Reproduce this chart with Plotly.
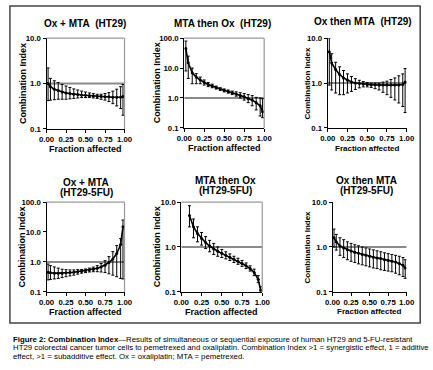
import plotly.graph_objects as go

W, H = 433, 370

# ---------------- data ----------------
fa = [0.02, 0.05, 0.10, 0.15, 0.20, 0.25, 0.30, 0.35, 0.40, 0.45, 0.50,
      0.55, 0.60, 0.65, 0.70, 0.75, 0.80, 0.85, 0.90, 0.95, 0.98]
fa5 = [0.10, 0.15, 0.20, 0.25, 0.30, 0.35, 0.40, 0.45, 0.50,
       0.55, 0.60, 0.65, 0.70, 0.75, 0.80, 0.85, 0.90, 0.95, 0.98]

# Ox + MTA (HT29)
ci1 = [1.00, 0.85, 0.75, 0.70, 0.65, 0.62, 0.60, 0.58, 0.57, 0.56, 0.55,
       0.54, 0.53, 0.52, 0.52, 0.51, 0.51, 0.50, 0.50, 0.50, 0.52]
hi1 = [2.2, 1.3, 1.15, 1.05, 0.95, 0.88, 0.82, 0.76, 0.72, 0.68, 0.65,
       0.62, 0.60, 0.58, 0.58, 0.60, 0.63, 0.68, 0.75, 0.85, 0.95]
lo1 = [0.42, 0.43, 0.44, 0.45, 0.45, 0.45, 0.46, 0.47, 0.48, 0.49, 0.49,
       0.49, 0.48, 0.47, 0.45, 0.43, 0.40, 0.36, 0.32, 0.28, 0.20]

# MTA then Ox (HT29)
ci2 = [45, 15, 7.0, 5.0, 4.0, 3.3, 2.8, 2.5, 2.2, 2.0, 1.8,
       1.65, 1.5, 1.35, 1.2, 1.1, 0.95, 0.85, 0.7, 0.55, 0.35]
hi2 = [80, 25, 10, 6.5, 5.0, 4.0, 3.3, 2.9, 2.5, 2.2, 2.0,
       1.85, 1.7, 1.6, 1.5, 1.4, 1.3, 1.2, 1.05, 1.0, 0.95]
lo2 = [8, 4.5, 3.0, 3.0, 3.0, 2.7, 2.4, 2.2, 2.0, 1.8, 1.6,
       1.45, 1.3, 1.15, 1.0, 0.85, 0.7, 0.55, 0.4, 0.25, 0.22]

# Ox then MTA (HT29)
ci3 = [5.0, 2.8, 2.0, 1.55, 1.3, 1.15, 1.05, 1.0, 0.97, 0.95, 0.93,
       0.92, 0.91, 0.90, 0.90, 0.90, 0.90, 0.90, 0.90, 0.93, 1.05]
hi3 = [10, 4.5, 2.9, 2.3, 1.9, 1.6, 1.4, 1.25, 1.15, 1.08, 1.03,
       1.0, 1.0, 1.0, 1.05, 1.1, 1.2, 1.3, 1.45, 1.6, 2.1]
lo3 = [0.9, 0.7, 0.6, 0.55, 0.55, 0.6, 0.65, 0.72, 0.78, 0.82, 0.82,
       0.8, 0.75, 0.7, 0.62, 0.55, 0.48, 0.42, 0.36, 0.3, 0.22]

# Ox + MTA (HT29-5FU)
ci4 = [0.45, 0.43, 0.42, 0.42, 0.42, 0.43, 0.44, 0.45, 0.47, 0.49, 0.51,
       0.54, 0.57, 0.61, 0.68, 0.78, 0.95, 1.25, 1.9, 3.8, 15]
hi4 = [0.85, 0.75, 0.68, 0.62, 0.57, 0.55, 0.54, 0.54, 0.55, 0.56, 0.58,
       0.62, 0.67, 0.75, 0.88, 1.1, 1.5, 2.2, 3.5, 6.0, 25]
lo4 = [0.25, 0.26, 0.27, 0.28, 0.30, 0.32, 0.34, 0.36, 0.39, 0.42, 0.44,
       0.46, 0.47, 0.47, 0.46, 0.44, 0.40, 0.36, 0.32, 0.28, 0.27]

# MTA then Ox (HT29-5FU)
ci5 = [5.0, 2.8, 2.0, 1.55, 1.25, 1.05, 0.9, 0.8, 0.72, 0.65,
       0.59, 0.53, 0.48, 0.43, 0.38, 0.33, 0.27, 0.19, 0.11]
hi5 = [8.3, 4.2, 2.8, 2.1, 1.7, 1.4, 1.2, 1.0, 0.88, 0.78,
       0.7, 0.62, 0.56, 0.5, 0.44, 0.38, 0.32, 0.23, 0.13]
lo5 = [2.8, 1.6, 1.3, 1.1, 0.92, 0.78, 0.68, 0.62, 0.58, 0.54,
       0.5, 0.45, 0.41, 0.37, 0.33, 0.29, 0.23, 0.16, 0.10]

# Ox then MTA (HT29-5FU)
ci6 = [1.6, 1.3, 1.05, 0.95, 0.87, 0.81, 0.76, 0.72, 0.68, 0.65, 0.62,
       0.59, 0.57, 0.55, 0.52, 0.50, 0.48, 0.46, 0.43, 0.39, 0.34]
hi6 = [2.5, 1.9, 1.6, 1.45, 1.3, 1.2, 1.12, 1.06, 1.0, 0.95, 0.9,
       0.86, 0.82, 0.78, 0.74, 0.71, 0.68, 0.65, 0.62, 0.58, 0.52]
lo6 = [1.0, 0.85, 0.65, 0.58, 0.52, 0.48, 0.45, 0.42, 0.40, 0.38, 0.36,
       0.34, 0.33, 0.31, 0.30, 0.29, 0.28, 0.26, 0.24, 0.22, 0.20]

titles = [["Ox + MTA\u00a0\u00a0(HT29)"], ["MTA then Ox\u00a0\u00a0(HT29)"], ["Ox then MTA\u00a0\u00a0(HT29)"],
          ["Ox + MTA", "(HT29-5FU)"], ["MTA then Ox", "(HT29-5FU)"], ["Ox then MTA", "(HT29-5FU)"]]
x_ticks = [0, 0.25, 0.5, 0.75, 1.0]
x_ticklabels = ["0.00", "0.25", "0.50", "0.75", "1.00"]
y_ticks_all = [0.1, 1, 10, 100]
y_ticklabels_all = ["0.1", "1.0", "10.0", "100.0"]

panels = [
    (fa, ci1, hi1, lo1, 1),
    (fa, ci2, hi2, lo2, 2),
    (fa, ci3, hi3, lo3, 1),
    (fa, ci4, hi4, lo4, 2),
    (fa5, ci5, hi5, lo5, 1),
    (fa, ci6, hi6, lo6, 1),
]

# plot areas in pixels: left, right, top, bottom
boxes = [
    (40, 121, 35, 128),
    (183, 266, 35, 127),
    (332, 414, 35, 127),
    (40, 121, 203, 295),
    (180, 264, 203, 295),
    (337, 414, 203, 295),
]
framed = [True, True, False, True, True, False]
title_pos = [(80, 20), (223, 20), (369, 18), (81, 183), (226, 181), (372, 181)]
ytitle_x = [15, 155, 311, 14, 155, 311]
xtitle_y = [148.5, 148, 148, 315.5, 315.5, 315.5]
axis_fs = [9, 9, 8, 9, 9, 8]

FONT = "Liberation Sans, Arial, Helvetica, sans-serif"

fig = go.Figure()
annotations = []
shapes = []


def px_x(v):
    return v / W


def px_y(v):
    return 1 - v / H


for i, ((xs, ci, hi, lo, top), (l, r, t, b)) in enumerate(zip(panels, boxes)):
    n = i + 1
    xa = "x" if n == 1 else f"x{n}"
    ya = "y" if n == 1 else f"y{n}"
    fig.add_trace(go.Scatter(x=[0, 1], y=[1, 1], xaxis=xa, yaxis=ya, mode="lines",
                             line=dict(color="#8a8a8a", width=2), showlegend=False,
                             hoverinfo="skip"))
    fig.add_trace(go.Scatter(
        x=xs, y=ci, xaxis=xa, yaxis=ya, mode="lines+markers",
        line=dict(color="black", width=1.6),
        marker=dict(color="black", size=3),
        error_y=dict(type="data", symmetric=False,
                     array=[h - c for h, c in zip(hi, ci)],
                     arrayminus=[c - lo_ for c, lo_ in zip(ci, lo)],
                     color="black", thickness=1, width=1.5),
        showlegend=False))

    key_x = "xaxis" if n == 1 else f"xaxis{n}"
    key_y = "yaxis" if n == 1 else f"yaxis{n}"
    tickfont = dict(family=FONT, size=7.8, color="black", weight="bold")
    fig.update_layout(**{
        key_x: dict(domain=[px_x(l), px_x(r)], anchor=ya, range=[0, 1],
                    tickvals=x_ticks, ticktext=x_ticklabels, tickangle=0,
                    showline=True, linecolor="black", linewidth=1,
                    ticks="outside", ticklen=3, tickwidth=1, tickcolor="black",
                    showgrid=False, zeroline=False, tickfont=tickfont),
        key_y: dict(domain=[px_y(b), px_y(t)], anchor=xa, type="log",
                    range=[-1, top],
                    tickvals=y_ticks_all[:top + 2], ticktext=y_ticklabels_all[:top + 2],
                    showline=True, linecolor="black", linewidth=1,
                    ticks="outside", ticklen=3, tickwidth=1, tickcolor="black",
                    showgrid=False, zeroline=False, tickfont=tickfont),
    })
    if framed[i]:
        shapes.append(dict(type="line", xref="paper", yref="paper",
                           x0=px_x(l), x1=px_x(r), y0=px_y(t), y1=px_y(t),
                           line=dict(color="#999999", width=1.2)))
        shapes.append(dict(type="line", xref="paper", yref="paper",
                           x0=px_x(r), x1=px_x(r), y0=px_y(t), y1=px_y(b),
                           line=dict(color="#999999", width=1.2)))
    tx, ty = title_pos[i]
    for k, tline in enumerate(titles[i]):
        annotations.append(dict(text=tline, x=px_x(tx), y=px_y(ty + 10 * k), xref="paper", yref="paper",
                                showarrow=False, xanchor="center", yanchor="middle",
                                font=dict(family=FONT, size=10, color="black", weight="bold")))
    annotations.append(dict(text="Combination Index", x=px_x(ytitle_x[i]), y=px_y((t + b) / 2),
                            xref="paper", yref="paper", showarrow=False, textangle=-90,
                            xanchor="center", yanchor="middle",
                            font=dict(family=FONT, size=axis_fs[i], color="black", weight="bold")))
    annotations.append(dict(text="Fraction affected", x=px_x((l + r) / 2), y=px_y(xtitle_y[i]),
                            xref="paper", yref="paper", showarrow=False,
                            xanchor="center", yanchor="middle",
                            font=dict(family=FONT, size=axis_fs[i], color="black", weight="bold")))

# outer frame
shapes.append(dict(type="rect", xref="paper", yref="paper",
                   x0=px_x(2), x1=px_x(428), y0=px_y(327), y1=px_y(2),
                   line=dict(color="#444444", width=1.5)))

caption = [
    "<b>Figure 2: Combination Index</b>—Results of simultaneous or sequential exposure of human HT29 and 5-FU-resistant",
    "HT29 colorectal cancer tumor cells to pemetrexed and oxaliplatin. Combination Index >1 = synergistic effect, 1 = additive",
    "effect, >1 = subadditive effect. Ox = oxaliplatin; MTA = pemetrexed.",
]
for k, line in enumerate(caption):
    annotations.append(dict(text=line, x=px_x(3), y=px_y(344 + 8.5 * k), xref="paper", yref="paper",
                            showarrow=False, xanchor="left", yanchor="middle",
                            font=dict(family=FONT, size=7.8, color="black")))

fig.update_layout(width=W, height=H, margin=dict(l=0, r=0, t=0, b=0),
                  paper_bgcolor="white", plot_bgcolor="white",
                  annotations=annotations, shapes=shapes)

fig.write_html("out.html", config={"displayModeBar": False},
               post_script="document.body.style.margin='0px';")
